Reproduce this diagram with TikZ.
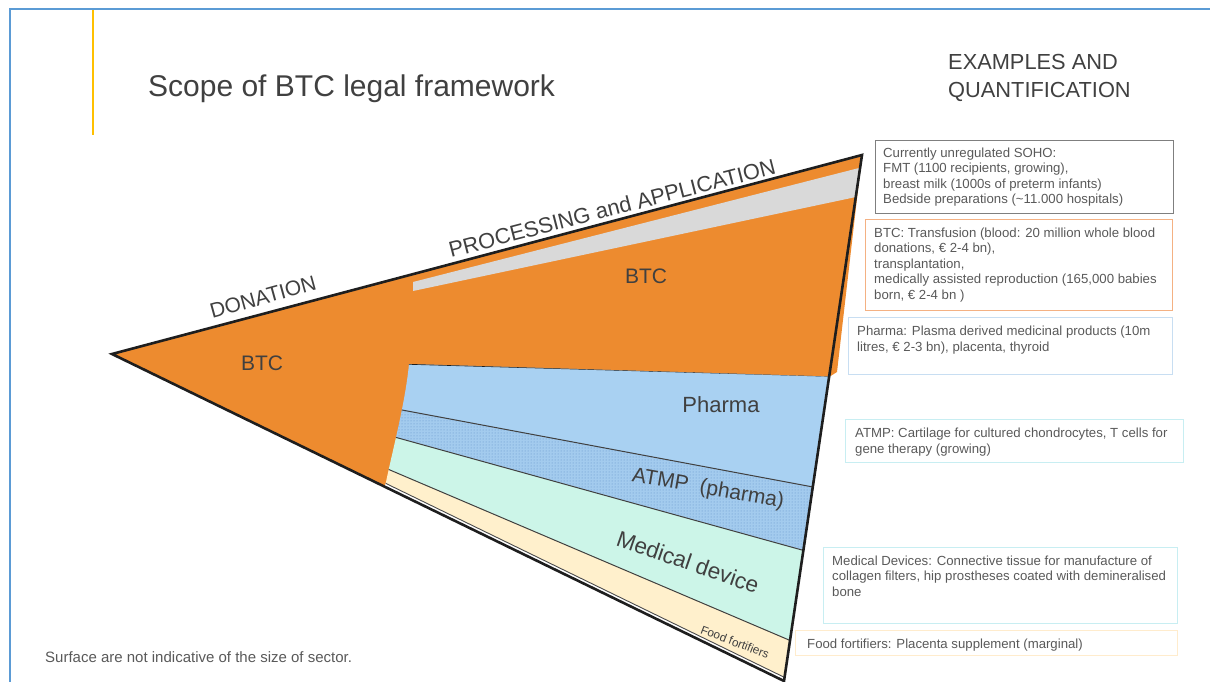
\documentclass[tikz,border=0pt]{standalone}
\usepackage{fontspec}
\setmainfont{Liberation Sans}
\usetikzlibrary{patterns}
\definecolor{btcorange}{RGB}{237,139,47}
\definecolor{grayband}{RGB}{217,217,217}
\definecolor{pharmablue}{RGB}{169,209,242}
\definecolor{atmpblue}{RGB}{163,203,238}
\definecolor{atmpdots}{RGB}{95,145,200}
\definecolor{medgreen}{RGB}{204,245,232}
\definecolor{foodcream}{RGB}{255,240,204}
\definecolor{outline}{RGB}{30,30,30}
\definecolor{textdark}{RGB}{64,64,64}
\definecolor{boxtextc}{RGB}{89,89,89}
\definecolor{slideblue}{RGB}{91,155,213}
\definecolor{slideyellow}{RGB}{255,192,0}
\definecolor{bordgray}{RGB}{127,127,127}
\definecolor{bordorange}{RGB}{244,177,131}
\definecolor{bordblue}{RGB}{200,222,242}
\definecolor{bordcyan}{RGB}{200,238,242}
\definecolor{bordcream}{RGB}{255,236,205}
\begin{document}
\begin{tikzpicture}[x=1pt,y=-1pt,
  boxframe/.style={rectangle, line width=1.2pt, inner sep=0pt, anchor=north west},
  boxtext/.style={anchor=base west, inner sep=0pt, align=left, text=boxtextc,
    font=\fontsize{13.2}{15.5}\selectfont},
  biglabel/.style={inner sep=0pt, text=textdark, font=\fontsize{21}{25}\selectfont},
  divline/.style={draw=outline!85, line width=1pt},
  edge/.style={draw=outline, line width=2.6pt, line join=miter}]
\useasboundingbox (0,0) rectangle (1210,682);
% slide frame
\draw[slideblue, line width=2pt] (10,682) -- (10,9) -- (1210,9);
\draw[slideyellow, line width=1.5pt] (93,10) -- (93,135);
% key points
\coordinate (A) at (112,354);
\coordinate (T) at (862,155);
\coordinate (B) at (784,681);
% orange body
\fill[btcorange] (A) -- (T) -- (837,372) -- (829,377) -- (B) -- cycle;
% gray band
\fill[grayband] (413,282) -- (859,168) -- (856,197) -- (413,291) -- cycle;
% lower sectors
\begin{scope}
  \clip (409,364) -- (829.5,376.5) -- (B) -- (385,486.8)
     .. controls (392,452) and (405,405) .. (409,364) -- cycle;
  \fill[pharmablue] (370,362.9) -- (900,378) -- (900,503.3) -- (370,404) -- cycle;
  \fill[atmpblue] (370,404) -- (900,503.3) -- (900,577.2) -- (370,430.2) -- cycle;
  \fill[pattern=dots, pattern color=atmpdots] (370,404) -- (900,503.3) -- (900,577.2) -- (370,430.2) -- cycle;
  \fill[medgreen] (370,430.2) -- (900,577.2) -- (900,687.3) -- (370,461.5) -- cycle;
  \fill[foodcream] (370,461.5) -- (900,687.3) -- (900,760) -- (370,760) -- cycle;
  \fill[white] (370,475.7) -- (900,733.6) -- (900,800) -- (370,800) -- cycle;
  \draw[outline, line width=1.3pt] (370,362.9) -- (900,378);
  \draw[divline] (370,404) -- (900,503.3);
  \draw[divline] (370,430.2) -- (900,577.2);
  \draw[divline] (370,461.5) -- (900,687.3);
  \draw[outline!80, line width=0.9pt] (370,475.7) -- (900,733.6);
\end{scope}
% outer outline
\draw[edge] (B) -- (A) -- (T) -- cycle;
% title and headings
\node[anchor=base west, inner sep=0pt, text=textdark, font=\fontsize{30}{34}\selectfont] (title) at (148,97) {Scope of BTC legal framework};
\node[anchor=base west, inner sep=0pt, align=left, text=textdark, font=\fontsize{21.8}{28}\selectfont] (examples) at (948,98) {EXAMPLES AND\\QUANTIFICATION};
% diagram labels
\node[biglabel, rotate=15.5] (donation) at (263,297) {DONATION};
\node[biglabel, font=\fontsize{21.8}{26}\selectfont, rotate=14.5] (processing) at (612,208) {PROCESSING and APPLICATION};
\node[biglabel] (btcleft) at (262,363) {BTC};
\node[biglabel] (btcup) at (646,276) {BTC};
\node[biglabel, font=\fontsize{22}{26}\selectfont] (pharma) at (721,405) {Pharma};
\node[biglabel, rotate=-10] (atmp) at (708,489) {ATMP\ \ (pharma)};
\node[biglabel, font=\fontsize{22.5}{26}\selectfont, rotate=-19] (meddev) at (688,562) {Medical device};
\node[biglabel, font=\fontsize{11.8}{13}\selectfont, rotate=-21] (food) at (735,642) {Food fortifiers};
% example boxes
\node[boxframe, draw=bordgray, minimum width=298, minimum height=73] (box1) at (875,140) {};
\node[boxtext] (txt1) at (883,203.5) {Currently unregulated SOHO:\\FMT (1100 recipients, growing),\\breast milk (1000s of preterm infants)\\Bedside preparations (\textasciitilde11.000 hospitals)};
\node[boxframe, draw=bordorange, minimum width=307, minimum height=91] (box2) at (865,219) {};
\node[boxtext] (txt2) at (874,299) {BTC: Transfusion (blood: 20 million whole blood\\donations, € 2-4 bn),\\transplantation,\\medically assisted reproduction (165,000 babies\\born, € 2-4 bn )};
\node[boxframe, draw=bordblue, minimum width=324, minimum height=57] (box3) at (848,317) {};
\node[boxtext] (txt3) at (857,351) {Pharma: Plasma derived medicinal products (10m\\litres, € 2-3 bn), placenta, thyroid};
\node[boxframe, draw=bordcyan, minimum width=338, minimum height=43] (box4) at (845,419) {};
\node[boxtext] (txt4) at (855,453) {ATMP: Cartilage for cultured chondrocytes, T cells for\\gene therapy (growing)};
\node[boxframe, draw=bordcyan, minimum width=354, minimum height=76] (box5) at (823,547) {};
\node[boxtext] (txt5) at (832,596) {Medical Devices: Connective tissue for manufacture of\\collagen filters, hip prostheses coated with demineralised\\bone};
\node[boxframe, draw=bordcream, minimum width=382, minimum height=25] (box6) at (795,630) {};
\node[boxtext] (txt6) at (807,648) {Food fortifiers: Placenta supplement (marginal)};
% footer
\node[boxtext, font=\fontsize{15}{17}\selectfont] (footer) at (45,662) {Surface are not indicative of the size of sector.};
\end{tikzpicture}
\end{document}
